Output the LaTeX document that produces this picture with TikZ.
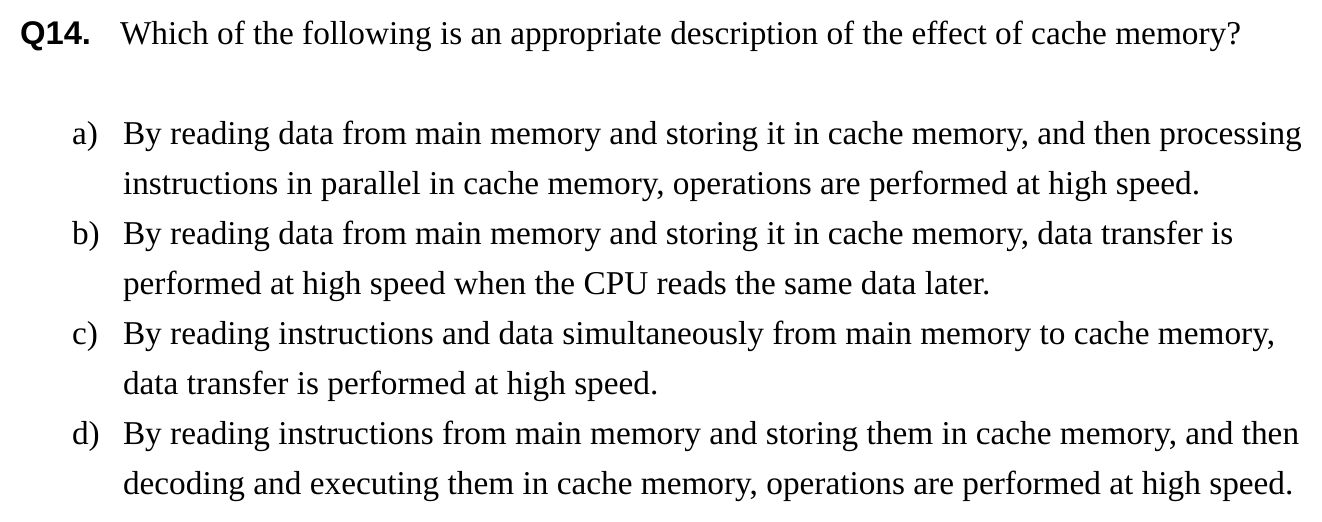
\documentclass[tikz,border=0pt]{standalone}
\usepackage{fontspec}
\setmainfont{Liberation Serif}
\newfontfamily\qfont{Liberation Sans}
\usetikzlibrary{positioning}
\tikzset{
every node/.style={inner sep=0pt, outer sep=0pt, anchor=base west}, % all text is placed by its baseline
line/.style={font=\fontsize{16.65}{20}\selectfont}, % body text of the question
label/.style={font=\fontsize{16.65}{20}\selectfont}, % option letters a) b) c) d)
qnum/.style={font=\qfont\bfseries\fontsize{16.4}{20}\selectfont}, % question number
}

\begin{document}
\begin{tikzpicture}[x=0.5pt,y=-0.5pt]
\useasboundingbox (0,0) rectangle (1322,522);
\node[qnum] (q) at (20,45) {Q14.};
\node[line] (qt) at (120,45) {Which of the following is an appropriate description of the effect of cache memory?};

\node[label] (la) at (72,145) {a)};
\node[line] (a1) at (123,145) {By reading data from main memory and storing it in cache memory, and then processing};
\node[line] (a2) at (123,195) {instructions in parallel in cache memory, operations are performed at high speed.};

\node[label] (lb) at (72,245) {b)};
\node[line] (b1) at (123,245) {By reading data from main memory and storing it in cache memory, data transfer is};
\node[line] (b2) at (123,295) {performed at high speed when the CPU reads the same data later.};

\node[label] (lc) at (72,345) {c)};
\node[line] (c1) at (123,345) {By reading instructions and data simultaneously from main memory to cache memory,};
\node[line] (c2) at (123,395) {data transfer is performed at high speed.};

\node[label] (ld) at (72,445) {d)};
\node[line] (d1) at (123,445) {By reading instructions from main memory and storing them in cache memory, and then};
\node[line] (d2) at (123,495) {decoding and executing them in cache memory, operations are performed at high speed.};
\end{tikzpicture}
\end{document}
